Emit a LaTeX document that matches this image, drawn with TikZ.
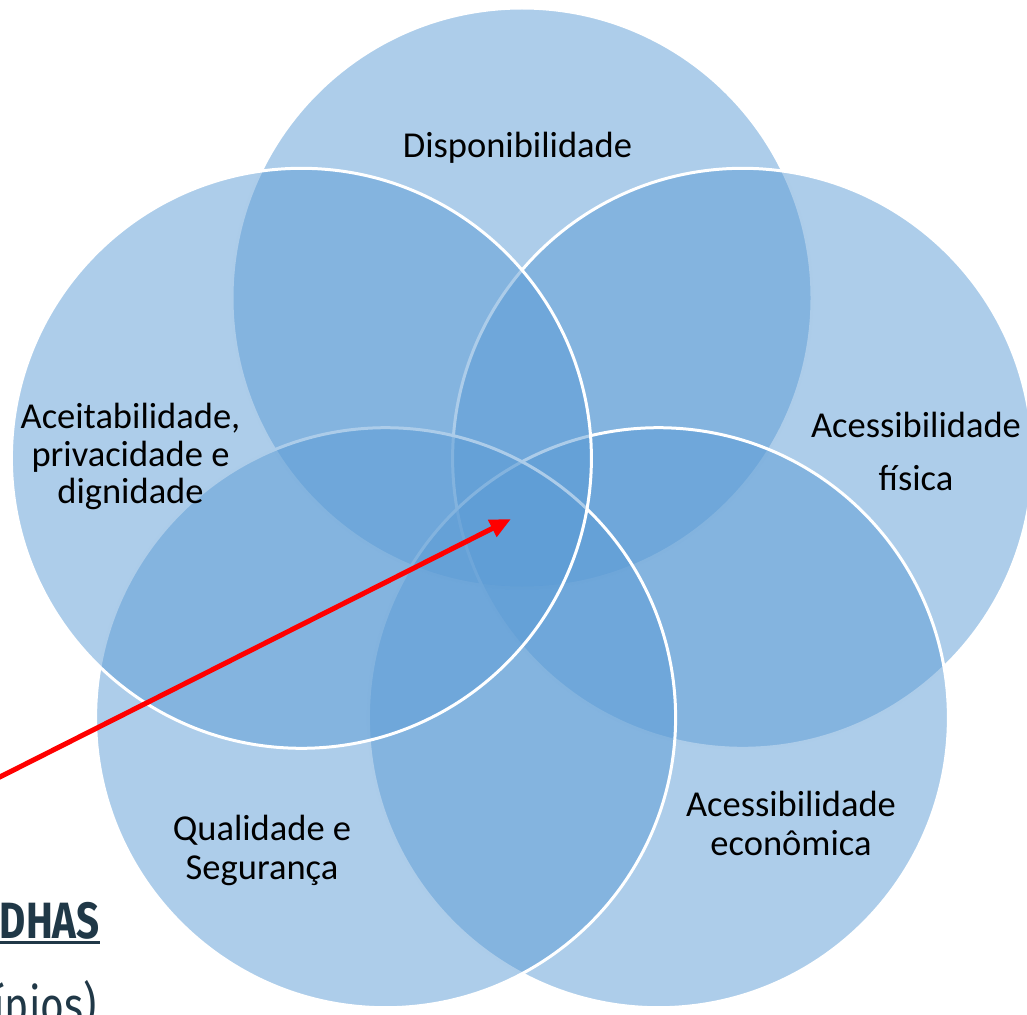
\documentclass[tikz,border=0pt]{standalone}
\usepackage{fontspec}
\setmainfont{Carlito}
\newfontfamily\dhasfont{Fira Sans}
\usepackage{graphicx}
\usetikzlibrary{arrows.meta}
\definecolor{vennblue}{HTML}{5B9BD5}
\definecolor{dhasc}{HTML}{203847}
\definecolor{arrowred}{HTML}{FF0000}
\tikzset{
  venn/.style={circle, inner sep=0pt, minimum size=580pt, draw=white, line width=3pt, fill=vennblue, fill opacity=0.5},
  lbl/.style={inner sep=0pt, anchor=base, text=black, font=\fontsize{36.5}{39}\selectfont},
  dhaslbl/.style={inner sep=0pt, anchor=base east, text=dhasc},
  redarrow/.style={draw=arrowred, line width=5pt, -{Triangle[length=21pt,width=18pt]}}
}
\newcommand{\lines}[1]{\begin{tabular}[t]{@{}c@{}}#1\end{tabular}}
\begin{document}
\begin{tikzpicture}[x=1pt,y=-1pt]
\useasboundingbox (0,0) rectangle (1027,1014);
\clip (0,0) rectangle (1027,1014);
% circles
\node[venn] (c1) at (522,298) {};
\node[venn] (c2) at (742.6,458.3) {};
\node[venn] (c3) at (658.4,717.7) {};
\node[venn] (c4) at (385.6,717.7) {};
\node[venn] (c5) at (301.4,458.3) {};
% labels
\node[lbl] (l1) at (517.5,157) {Disponibilidade};
\node[lbl] (l2) at (916,437) {\lines{Acessibilidade\\[14pt]física}};
\node[lbl] (l3) at (791,816) {\lines{Acessibilidade\\econômica}};
\node[lbl] (l4) at (262,840) {\lines{Qualidade e\\Segurança}};
\node[lbl] (l5) at (130.5,428) {\lines{Aceitabilidade,\\[-1pt]privacidade e\\[-2pt]dignidade}};
% left texts
\node[dhaslbl] (dhas) at (100,938) {\scalebox{0.79}[1]{\fontsize{51}{55}\dhasfont\bfseries DHAS}};
\draw[draw=dhasc, line width=2.5pt] ([yshift=-4.5pt]dhas.base west) -- ([yshift=-4.5pt]dhas.base east);
\node[dhaslbl] (prin) at (97,1023) {\scalebox{0.8}[1]{\fontsize{51}{55}\dhasfont ípios)}};
% arrow
\coordinate (astart) at (-20,787);
\coordinate (atip) at (511,519);
\draw[redarrow] (astart) -- (atip);
\end{tikzpicture}
\end{document}
